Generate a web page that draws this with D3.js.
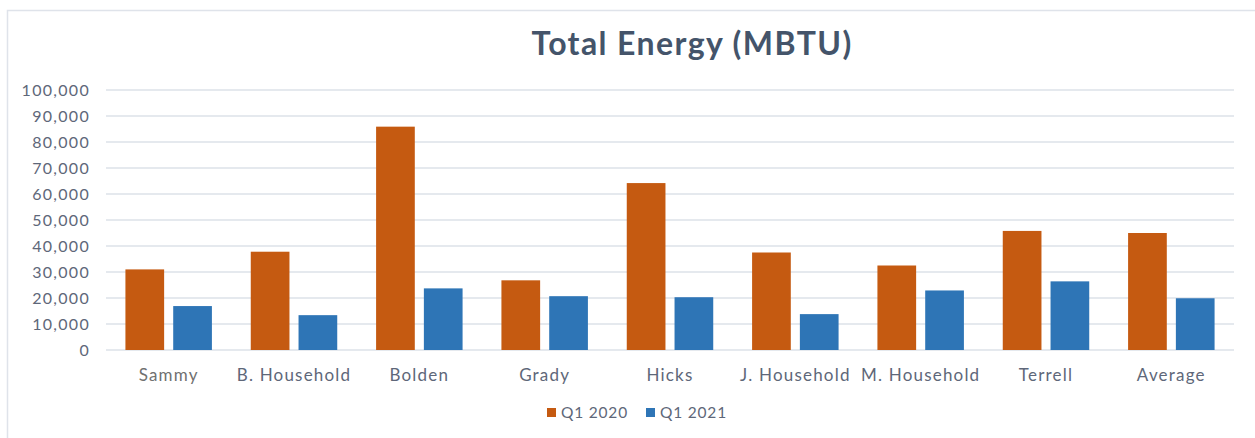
<!DOCTYPE html>
<html>
<head>
<meta charset="utf-8">
<script src="https://cdn.jsdelivr.net/npm/d3@7"></script>
<style>
    body { margin: 0; background: #fff; }
    svg { display: block; font-family: Lato, "Open Sans", sans-serif; }
</style>
</head>
<body>
<div class="canvas"></div>
<script>
// Data
const categories = ['Sammy', 'B. Household', 'Bolden', 'Grady', 'Hicks', 'J. Household', 'M. Household', 'Terrell', 'Average'];
const seriesNames = ['Q1 2020', 'Q1 2021'];
const q1_2020 = [31000, 37800, 85900, 26800, 64200, 37500, 32500, 45800, 45000];
const q1_2021 = [16900, 13400, 23700, 20700, 20300, 13800, 22900, 26400, 19900];
const yTicks = [0, 10000, 20000, 30000, 40000, 50000, 60000, 70000, 80000, 90000, 100000];
const colors = ['#C55A11', '#2E75B6'];

const app = {
    dims: {
        svgWidth: 1255,
        svgHeight: 438,
        left: 106,
        right: 1234,
        top: 90,
        bottom: 350,
    },
    svg: null,

    init: function() {
        const d = app.dims;
        const rows = categories.map((c, i) => ({ name: c, values: [q1_2020[i], q1_2021[i]] }));

        app.svg = d3.select('.canvas')
            .append('svg')
            .attr('width', d.svgWidth)
            .attr('height', d.svgHeight);

        // Outer frame
        app.svg.append('rect')
            .attr('x', 7.5).attr('y', 10.5)
            .attr('width', 1300).attr('height', 500)
            .attr('fill', 'none')
            .attr('stroke', '#dfe3ea')
            .attr('stroke-width', 1.5);

        // Scales
        const x = d3.scaleBand()
            .domain(categories)
            .range([d.left, d.right])
            .paddingInner(0.31)
            .paddingOuter(0.155);

        const xInner = d3.scaleBand()
            .domain(seriesNames)
            .range([0, x.bandwidth()])
            .paddingInner(0.19);

        const y = d3.scaleLinear()
            .domain([0, 100000])
            .range([d.bottom, d.top]);

        // Gridlines
        app.svg.append('g')
            .selectAll('line')
            .data(yTicks)
            .enter()
            .append('line')
            .attr('x1', d.left).attr('x2', d.right)
            .attr('y1', v => y(v)).attr('y2', v => y(v))
            .attr('stroke', '#dde2e9')
            .attr('stroke-width', 1.5);

        // Y axis
        const yAxis = app.svg.append('g')
            .attr('transform', `translate(${d.left - 16}, 0)`)
            .call(d3.axisLeft(y).tickValues(yTicks).tickSize(0).tickPadding(0).tickFormat(d3.format(',')));
        yAxis.select('.domain').remove();
        yAxis.selectAll('text')
            .attr('fill', '#5e6779')
            .attr('font-size', '16px')
            .attr('letter-spacing', '1.3px')
            .attr('font-family', 'Lato, sans-serif');

        // Bars
        const groups = app.svg.append('g')
            .selectAll('g')
            .data(rows)
            .enter()
            .append('g')
            .attr('transform', r => `translate(${x(r.name)}, 0)`);

        groups.selectAll('rect')
            .data(r => r.values.map((v, i) => ({ key: seriesNames[i], value: v, i: i })))
            .enter()
            .append('rect')
            .attr('x', b => xInner(b.key))
            .attr('y', b => y(b.value))
            .attr('width', xInner.bandwidth())
            .attr('height', b => y(0) - y(b.value))
            .attr('fill', b => colors[b.i]);

        // Category labels
        app.svg.append('g')
            .selectAll('text')
            .data(categories)
            .enter()
            .append('text')
            .attr('x', c => x(c) + x.bandwidth() / 2)
            .attr('y', 381)
            .attr('text-anchor', 'middle')
            .attr('font-size', '17px')
            .attr('letter-spacing', '1.2px')
            .attr('fill', c => c === 'Sammy' ? '#707070' : '#5e6779')
            .text(c => c);

        // Title
        app.svg.append('text')
            .attr('x', 692)
            .attr('y', 55)
            .attr('text-anchor', 'middle')
            .attr('font-size', '32px')
            .attr('font-weight', 'bold')
            .attr('letter-spacing', '1.4px')
            .attr('fill', '#44546A')
            .text('Total Energy (MBTU)');

        // Legend
        const legendX = [547, 646];
        const legend = app.svg.append('g')
            .selectAll('g')
            .data(seriesNames)
            .enter()
            .append('g')
            .attr('transform', (s, i) => `translate(${legendX[i]}, 408)`);

        legend.append('rect')
            .attr('width', 9).attr('height', 9)
            .attr('fill', (s, i) => colors[i]);

        legend.append('text')
            .attr('x', 14)
            .attr('y', 10)
            .attr('font-size', '15.5px')
            .attr('letter-spacing', '0.8px')
            .attr('fill', '#5e6779')
            .text(s => s);
    },
};

document.addEventListener('DOMContentLoaded', app.init);
</script>
</body>
</html>
